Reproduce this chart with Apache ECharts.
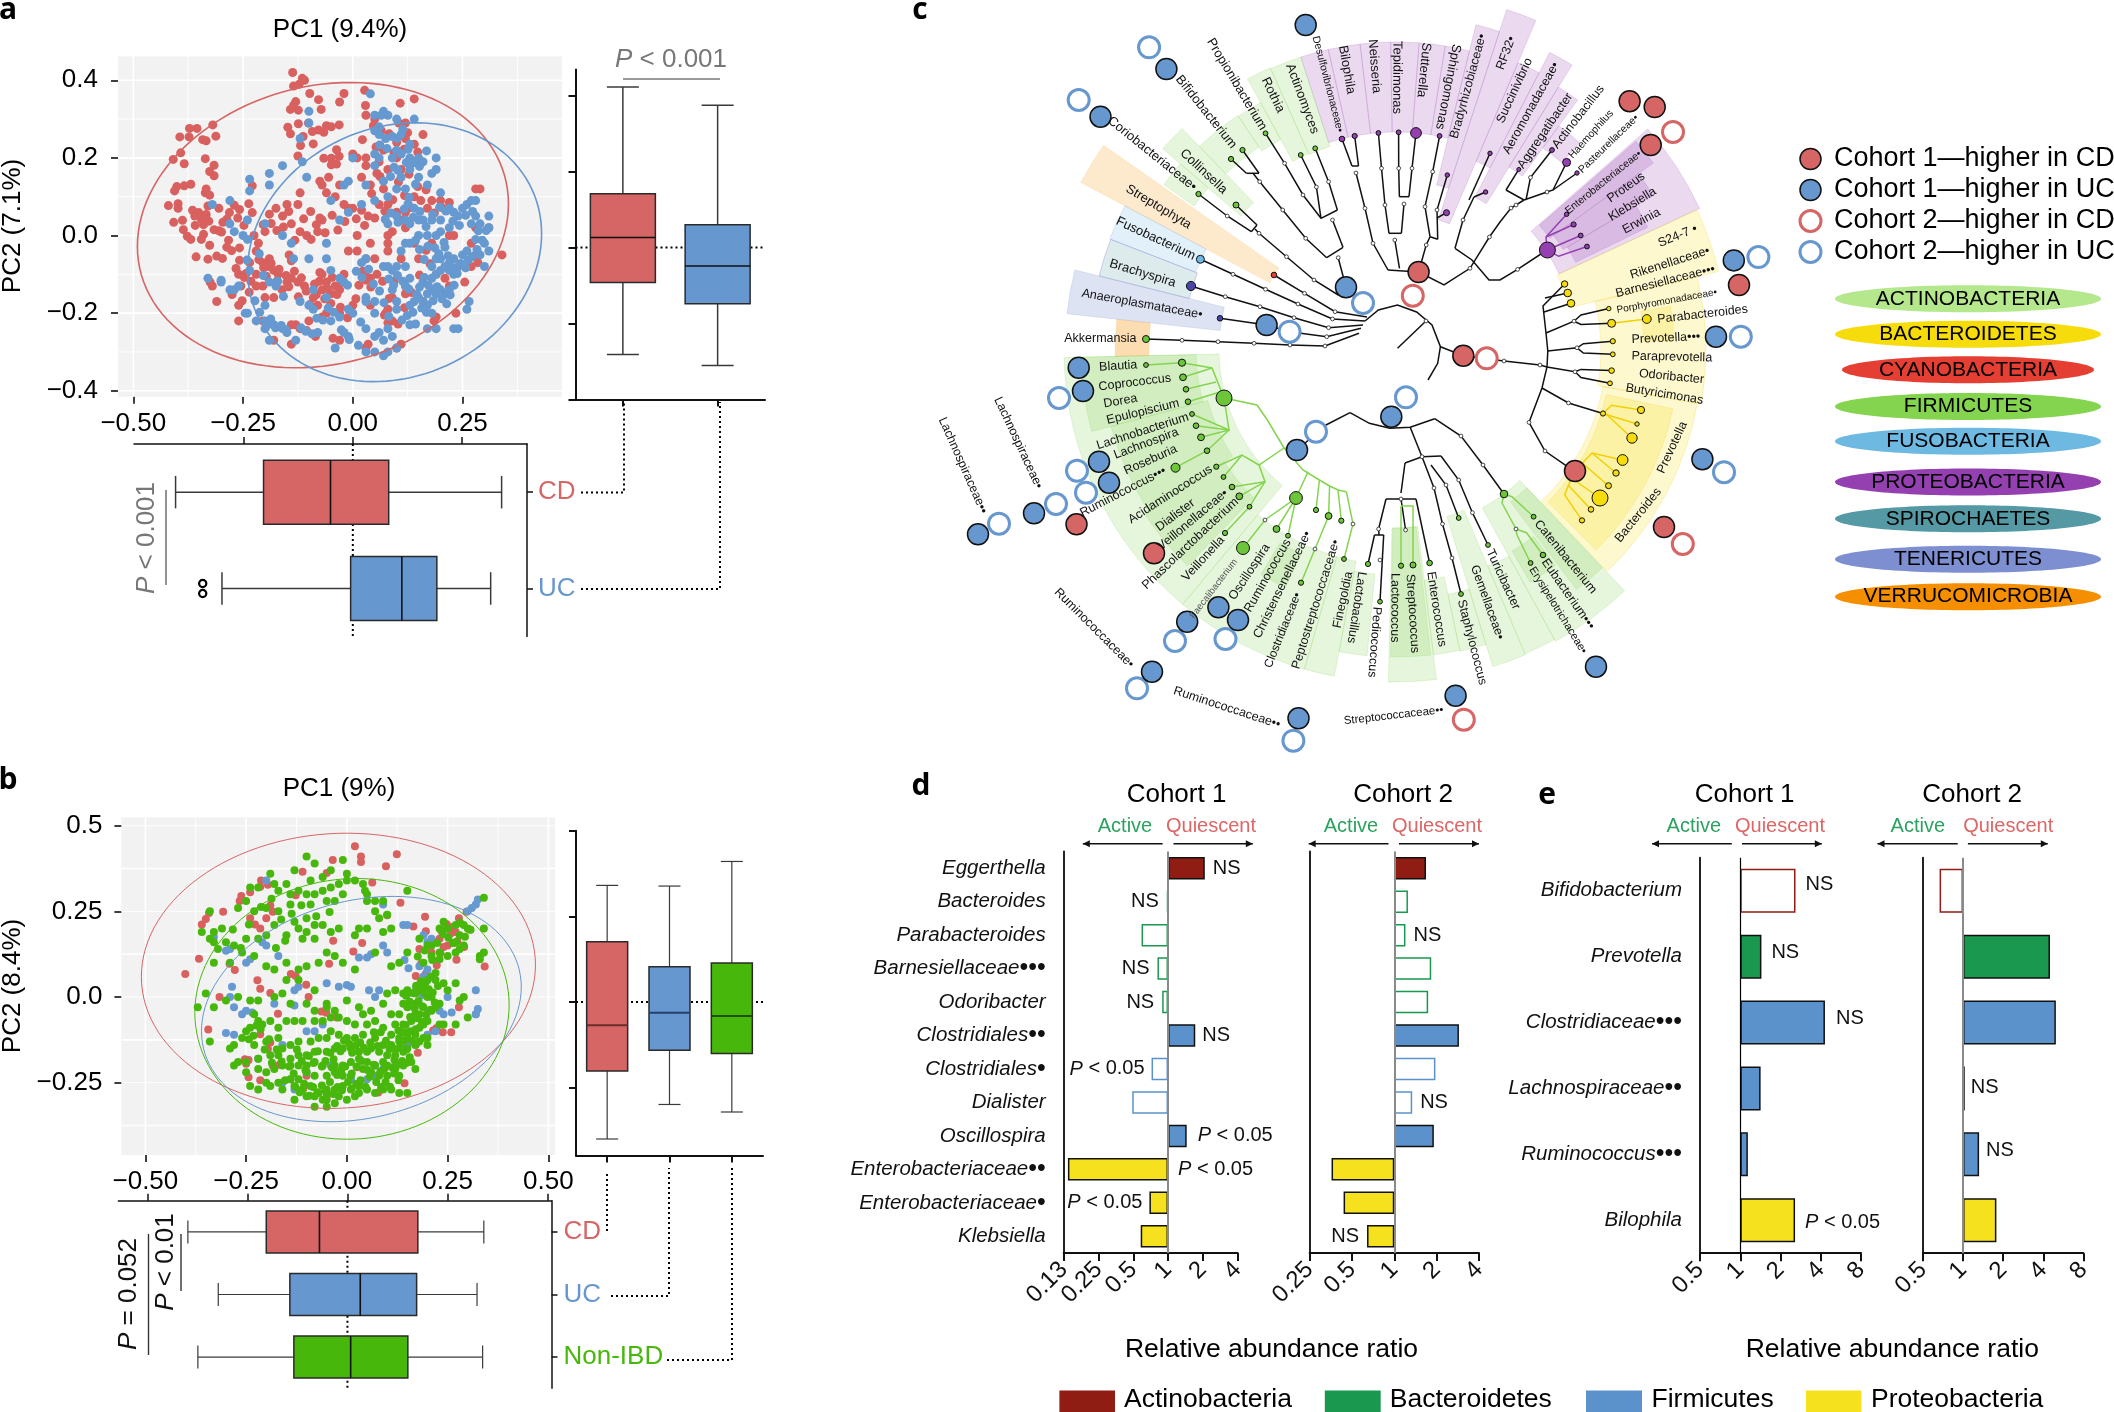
<!DOCTYPE html>
<html><head><meta charset="utf-8">
<style>html,body{margin:0;background:#fff}#c{width:2114px;height:1412px}</style>
<script src="https://cdn.jsdelivr.net/npm/echarts@6/dist/echarts.min.js"></script>
</head><body><div id="c"></div>
<script>
/* ---------- panel a: ordination scores, flat x,y lists ---------- */
const aCD=[-.137,.42,-.115,.405,-.11,.40,-.122,.39,-.135,.385,.027,.374,.029,.335,.108,.341,.14,.352,-.02,.366,-.03,.344,-.098,.366,-.078,.35,-.072,.325,-.124,.323,-.142,.325,-.13,.345,-.135,.335,-.148,.279,-.124,.288,-.101,.29,-.06,.283,-.049,.28,-.031,.285,-.078,.272,-.066,.266,-.092,.268,-.113,.255,-.119,.232,-.09,.236,-.037,.221,-.031,.204,-.049,.199,-.037,.184,-.049,.182,-.066,.199,
-.372,.276,-.355,.276,-.319,.285,-.394,.254,-.373,.254,-.342,.247,-.334,.244,-.312,.256,-.392,.213,-.409,.196,-.384,.185,-.336,.198,-.316,.181,-.326,.165,-.316,.154,-.401,.126,-.406,.115,-.384,.128,-.369,.132,-.334,.12,-.336,.11,-.326,.104,-.42,.077,-.398,.082,-.398,.07,-.33,.076,-.408,.034,-.388,.039,-.365,.065,-.351,.059,-.334,.054,-.36,.05,-.345,.042,-.359,.026,-.34,.028,-.328,.037,-.386,.015,-.377,-.002,-.369,-.01,-.34,.003,-.345,-.01,-.316,.015,-.299,.009,-.326,-.025,-.357,-.055,-.33,-.061,-.31,-.053,-.297,-.059,-.287,-.03,-.276,-.039,-.258,-.032,-.281,.059,-.287,.042,-.305,.07,-.258,.067,-.237,.082,-.229,.059,-.229,.128,-.258,-.064,
-.235,-.07,-.22,-.04,-.215,-.02,-.225,.0,-.2,.01,-.19,.055,-.175,.07,-.16,.05,-.15,.08,-.125,.08,-.12,.11,-.14,.03,-.12,.01,-.105,.0,-.095,-.01,-.08,.01,-.075,.045,-.07,.04,-.06,.11,-.07,.13,-.04,.1,-.03,.13,-.075,.14,-.055,.15,-.02,.08,.0,.07,-.01,.07,.02,.065,.035,.05,.05,.045,.06,.08,.08,.08,.1,.06,.11,.04,.12,.06,.14,.1,.155,.09,.18,.09,.2,.09,.22,.085,.17,.07,.07,.12,.08,.17,.055,.16,.03,.18,.02,.15,.04,.13,.01,.2,.0,.21,.03,.2,.06,.19,.07,.22,.1,.2,.11,.17,.14,.19,.1,.24,.12,.25,.14,.235,.065,.27,.05,.3,.03,.31,.12,.29,.105,.29,
.16,.26,.125,.265,.28,.12,.29,.12,.31,.02,.34,-.05,.28,-.05,.285,-.07,.27,-.08,.255,-.12,.235,-.2,.19,-.21,.185,-.22,.11,-.28,.1,-.29,.03,-.29,.035,-.28,-.03,-.27,-.045,-.265,-.1,-.22,-.12,-.24,-.14,-.28,-.14,-.23,-.13,-.23,-.105,-.245,-.085,-.26,-.18,-.27,-.205,-.22,-.26,-.22,-.26,-.18,-.31,-.17,-.255,-.13,-.32,-.13,-.325,-.12,-.26,-.1,-.22,-.1,-.22,-.13,-.205,-.13,-.2,-.16,-.18,-.16,-.205,-.07,-.19,-.08,-.19,-.06,-.18,-.09,-.17,-.1,-.15,-.12,-.14,-.11,-.14,-.065,-.145,-.05,-.125,-.12,-.11,-.13,-.09,-.16,-.07,-.14,-.06,-.12,-.05,-.15,-.05,-.175,-.03,-.14,-.025,-.12,-.02,-.1,-.07,-.1,-.075,-.095,-.04,-.13,.03,-.115,.03,-.105,.04,-.11,.055,-.1,.05,-.06,.03,-.06,-.01,-.04,.01,.0,.01,-.04,.04,-.02,.08,-.02,.08,.0,.09,.01,.08,-.04,.11,-.06,.15,-.06,.12,-.13,.12,-.15,.08,-.19,.075,-.2,.08,-.225,.09,-.22,.09,-.16,.04,-.18,.0,-.18,-.03,-.2,-.08,-.18,-.06,-.2,-.07,-.21,.16,-.17,.19,-.1,.21,-.11,.22,-.13,.23,.0,.22,.0,.28,.02,.27,-.02,.18,-.02,.14,-.02,.12,.02,
-.243,-.098,-.232,-.118,-.214,-.062,-.203,-.083,-.197,-.105,-.186,-.072,-.173,-.118,-.168,-.087,-.161,-.14,-.152,-.103,-.146,-.132,-.133,-.092,-.124,-.158,-.117,-.109,-.106,-.143,-.098,-.178,-.087,-.125,-.083,-.152,-.076,-.118,-.064,-.163,-.058,-.137,-.047,-.108,-.036,-.152,-.028,-.185,-.012,-.212,.007,-.163,.014,-.128,.023,-.092,.041,-.133,.068,-.118,.072,-.205,.083,-.162,.094,-.118,.103,-.228,.118,-.186,.134,-.147,.152,-.102,.167,-.038,.176,-.073,-.204,.028,-.186,.031,-.173,.013,-.158,.022,-.146,.062,-.132,-.012,-.112,.043,-.096,.062,-.083,.028,-.063,.007,-.047,.052,-.034,.014,-.018,.036,.008,.043,.027,.026,.043,.108,.062,.152,.073,.063,.091,.092,.104,.138,.118,.103,.132,.072,.148,.126,.167,.118,.186,.058,.203,.072,.217,.067,-.27,.078,-.262,.045,-.248,.026,-.296,.034,-.305,.012,-.283,-.012,-.266,-.085,-.247,-.108,-.275,-.152,-.252,-.168,-.236,-.146,.062,.232,.083,.262,.094,.213,.117,.222,.128,.158,.148,.215,.047,.283,.022,.247,.053,.228,-.142,.262,-.125,.205];
const aUC=[.04,.365,.07,.32,.065,.31,.05,.31,.08,.31,.1,.3,.14,.3,.06,.28,.05,.27,.06,.26,.075,.25,.09,.255,.1,.25,.11,.26,.13,.235,.09,.2,.1,.22,.11,.21,.13,.2,.15,.2,.16,.19,.19,.2,.19,.17,.18,.16,.13,.17,.11,.15,.12,.12,.06,.2,.05,.21,.05,.18,.07,.14,.03,.13,.0,.2,-.01,.14,-.02,.13,-.12,.25,-.1,.32,-.1,.29,-.115,.19,-.105,.15,-.16,.18,-.19,.16,-.235,.145,-.235,.115,-.19,.13,-.28,.09,-.32,.08,-.28,.03,-.27,.01,-.24,.04,-.25,.0,-.24,-.01,-.2,.03,-.16,.0,-.14,-.02,-.135,-.06,-.1,-.06,-.06,-.02,-.05,.09,-.01,.06,-.03,.04,-.06,-.06,-.05,-.09,
.02,.08,.05,.09,.08,.03,.1,.05,.12,.04,.13,.03,.15,.04,.18,.04,.2,.04,.22,.02,.24,.05,.25,.07,.26,.08,.28,.09,.28,.05,.27,.03,.29,.03,.31,.05,.31,.02,.28,-.01,.3,-.02,.31,-.04,.29,-.05,.3,-.08,.26,-.04,.25,-.05,.24,-.08,.23,-.06,.22,-.07,.21,-.03,.2,-.06,.19,-.06,.18,-.08,.19,-.1,.2,-.09,.21,-.08,.22,-.09,.23,-.1,.18,-.11,.16,-.12,.17,-.15,.18,-.14,.19,-.15,.2,-.14,.21,-.15,.22,-.14,.16,-.17,.17,-.18,.15,-.16,.14,-.17,.13,-.18,.12,-.13,.13,-.11,.12,-.08,.11,-.04,.12,-.02,.1,-.08,.09,-.09,.08,-.08,.07,-.08,.03,-.06,.02,-.07,.09,-.14,.1,-.17,.1,-.19,.05,-.2,.05,-.17,.03,-.17,.03,-.16,-.01,-.19,.0,-.2,.03,-.24,.06,-.25,.08,-.24,.09,-.26,.05,-.26,.07,-.27,.1,-.29,.05,-.3,.07,-.31,.03,-.3,.08,-.3,-.01,-.26,-.02,-.25,-.04,-.29,-.08,-.25,-.05,-.22,-.03,-.21,-.09,-.19,-.1,-.18,-.12,-.17,-.09,-.14,-.03,-.11,-.02,-.12,-.06,-.16,-.2,-.18,-.22,-.22,-.2,-.24,-.2,-.22,-.18,-.23,-.16,-.24,-.15,-.25,-.13,-.27,-.19,-.27,-.24,-.2,-.245,-.2,-.28,-.14,-.3,-.12,-.33,-.11,-.3,-.115,-.27,-.14,-.26,-.13,-.235,-.09,-.19,-.12,-.175,-.13,.13,-.23,.17,-.24,.19,-.24,.23,-.24,.24,-.24,.26,-.19,.265,-.17,.18,-.2,.13,-.02,.15,.0,.17,.0,.19,.0,.2,.01,.22,.07,.23,.06,.27,.09,.1,.12,.08,.1,.15,.15,.17,.13,.2,.11,.14,.07,.16,.04,
.143,-.013,.152,-.036,.163,-.062,.171,-.028,.187,-.032,.196,-.047,.208,-.018,.217,-.052,.226,-.083,.238,-.098,.246,-.072,.257,-.083,.263,-.063,.272,-.055,.283,-.036,.295,-.012,.304,.013,.286,.012,.273,.062,.257,.052,.243,.026,.228,.037,.212,.063,.198,.073,.182,.054,.167,.023,.153,.062,.138,.047,.126,.082,.117,.068,.103,.034,.087,.058,.074,.042,.152,-.133,.163,-.108,.172,-.128,.183,-.168,.192,-.132,.203,-.163,.214,-.176,.222,-.153,.231,-.128,.168,-.198,.157,-.187,.146,-.152,.137,-.198,.128,-.138,.114,-.118,.102,-.103,.093,-.128,.082,-.112,.061,-.143,.047,-.125,.036,-.087,.021,-.108,.008,-.092,-.012,-.128,.071,-.173,.082,-.208,.112,-.218,.124,-.206,.143,-.228,-.223,-.168,-.212,-.198,-.196,-.233,-.187,-.215,-.176,-.238,-.163,-.232,-.152,-.243,-.118,-.238,-.107,-.247,-.093,-.253,-.082,-.213,-.068,-.218,-.056,-.187,-.043,-.198,-.026,-.243,-.008,-.268,.013,-.283,.018,-.223,.114,.274,.126,.222,.137,.187,.152,.178,.168,.218,.143,.132,.128,.098,.086,.152,.078,.224,.061,.233,.094,.176,.103,.168,.122,.188,-.171,-.118,-.158,-.157,-.204,-.103,-.241,-.063,-.213,-.047];
/* ---------- panel b: ordination scores, flat x,y lists ---------- */
const bCD=[.02,.44,.124,.417,-.035,.40,.035,.41,.035,.394,.097,.382,-.11,.366,-.05,.362,-.213,.34,-.196,.328,-.215,.322,-.262,.295,-.24,.306,-.266,.28,-.307,.249,-.342,.245,-.35,.228,-.36,.212,-.24,.23,-.228,.212,-.215,.2,-.2,.23,-.184,.249,-.19,.267,-.127,.297,.063,.334,.133,.275,.1,.239,.194,.234,.165,.206,.196,.192,.234,.194,.253,.206,.278,.23,.297,.249,.304,.197,.266,.158,.24,.146,.291,.146,.272,.109,.342,.089,.184,.097,.171,.061,.038,.158,-.034,.164,.016,.133,-.044,.097,-.139,.067,-.127,.061,-.222,.049,-.215,.024,-.19,.012,-.101,.036,-.095,.0,-.316,.0,-.401,.067,-.367,.112,-.291,.097,-.278,.079,-.344,-.095,-.171,-.049,-.063,-.042,-.051,-.046,.222,-.091,.259,-.103,.278,-.03,-.025,-.06,-.215,-.109,-.253,-.182,-.244,-.184,-.25,-.195,-.244,-.234,-.184,-.2,-.167,-.198,-.196,-.152,-.19,-.133,-.215,-.243,-.108,-.267,-.1,-.23,.078,-.279,.143,-.252,.025,-.205,-.05,-.291,.21,.13,.23,.17,.25,.15,.27,.19,.18,.14,.26,.2,.213,.163,.232,.128,.247,.213,.258,.186,.274,.163,.223,.093,.196,.068,.183,.043,.172,-.137,.176,-.163,.214,-.098,.238,-.103];
const bUC=[.325,.285,.32,.27,.31,.26,.3,.25,-.2,.34,-.33,.175,-.3,.135,-.29,.14,-.24,.11,-.21,.16,-.2,.15,-.17,.12,-.25,.1,-.13,.02,-.12,.03,-.285,.03,-.29,.0,-.28,-.03,-.26,-.05,-.25,-.04,-.235,-.045,-.18,-.02,-.13,-.025,-.3,-.105,-.28,-.11,-.22,-.18,-.16,-.14,-.1,-.1,-.08,-.1,-.06,-.08,-.05,.04,-.02,.03,.0,.035,.01,.03,.03,.115,.05,.115,.06,.125,.055,.02,.07,.0,.08,.02,.09,.15,.1,.13,.09,.27,.14,.21,.15,.21,.19,.18,.2,.16,.21,.17,.18,.09,.2,.08,.19,.06,.2,.05,.25,.0,.32,.02,.325,-.035,.32,-.05,.32,-.05,.24,-.05,.26,-.045,.23,-.04,.22,-.1,.2,-.11,.17,-.14,.15,-.14,.12,-.2,.09,-.21,.07,-.2,.07,-.23,.05,-.24,.01,-.24,-.04,-.2,-.1,-.22,-.14,-.24,-.16,-.25,-.13,-.27,.143,.108,.153,.084,.172,.028,.187,.006,.203,-.04];
const bNon=[-.1,.41,-.08,.39,-.04,.37,-.01,.4,.0,.36,.0,.34,.02,.34,-.19,.36,-.18,.33,-.15,.33,-.13,.37,-.09,.34,-.06,.35,-.04,.32,-.02,.33,.04,.33,.05,.3,.045,.31,-.06,.31,-.08,.3,-.1,.3,-.12,.31,-.14,.3,-.17,.31,-.22,.32,-.24,.32,-.14,.27,-.09,.27,-.05,.28,-.03,.28,-.01,.3,.05,.28,.07,.28,.09,.28,.15,.31,-.27,.26,-.25,.28,-.23,.25,-.2,.26,-.17,.25,-.13,.22,-.1,.23,-.08,.21,-.06,.21,.07,.25,.08,.23,.1,.24,-.34,.25,-.36,.19,-.33,.19,-.31,.2,-.3,.16,-.34,.17,-.33,.16,-.32,.14,-.28,.15,-.25,.17,-.22,.17,-.2,.18,-.18,.21,-.15,.18,-.12,.2,-.1,.19,-.11,.17,-.08,.17,-.04,.19,-.02,.2,.02,.18,.03,.2,.05,.2,.09,.19,.11,.2,.15,.13,.13,.1,.11,.09,.07,.13,.18,.17,.2,.15,.23,.2,.24,.22,.25,.2,.27,.21,.28,.18,.3,.2,.27,.16,.29,.15,.33,.12,.34,.2,.34,.13,.33,.11,.34,.29,-.33,.1,-.29,.1,-.26,.13,-.23,.12,-.2,.09,-.18,.08,-.15,.1,-.12,.08,-.1,.09,-.07,.1,-.05,.13,-.03,.12,-.01,.1,.02,.08,-.15,.05,-.12,.05,-.08,.02,-.05,-.02,.0,-.01,.03,-.03,-.35,.01,-.37,-.03,-.33,-.03,-.3,-.01,-.27,.0,-.24,-.01,-.22,-.01,-.18,.0,-.16,.01,-.14,-.02,-.1,-.02,-.08,-.04,-.05,-.03,-.03,-.04,.04,-.05,.06,-.04,.09,-.02,.1,.01,.12,.02,.14,.01,.15,.02,.17,.01,.19,.03,.2,.05,.21,.06,.22,.05,.24,.04,.27,.04,.28,-.01,.29,.0,.3,-.06,.27,-.08,.24,-.08,.18,-.05,.19,-.03,.17,-.02,.15,-.03,.14,-.02,.13,-.05,.11,-.05,.12,-.08,.14,-.08,.16,-.07,.18,-.09,.19,-.12,.2,-.14,.15,-.12,.13,-.12,.11,-.11,.09,-.09,.07,-.07,.05,-.08,.02,-.08,.0,-.07,-.02,-.06,-.04,-.06,-.06,-.07,-.08,-.07,-.11,-.07,-.13,-.07,-.15,-.07,-.17,-.09,-.19,-.07,-.21,-.08,-.22,-.07,-.23,-.05,-.24,-.09,-.25,-.1,-.26,-.12,-.34,-.13,-.29,-.15,-.28,-.14,-.23,-.14,-.2,-.13,-.17,-.12,-.16,-.15,-.14,-.14,-.12,-.13,-.09,-.13,-.07,-.12,-.05,-.12,-.04,-.1,-.02,-.11,.0,-.12,.02,-.12,.04,-.11,.07,-.12,.09,-.14,.11,-.14,.13,-.13,.15,-.15,.17,-.14,.14,-.16,.12,-.17,.1,-.17,.08,-.16,.06,-.15,.05,-.16,.03,-.16,.01,-.15,-.01,-.15,-.03,-.15,-.05,-.16,-.08,-.16,-.1,-.17,-.12,-.17,-.14,-.18,-.17,-.17,-.19,-.17,-.22,-.18,-.25,-.19,-.27,-.19,-.28,-.2,-.25,-.22,-.22,-.21,-.2,-.22,-.18,-.21,-.16,-.2,-.14,-.2,-.12,-.2,-.1,-.2,-.08,-.19,-.06,-.2,-.03,-.2,-.01,-.2,.01,-.19,.03,-.18,.05,-.19,.07,-.2,.09,-.19,.1,-.2,.12,-.21,.14,-.2,.16,-.19,.17,-.21,.13,-.23,.1,-.23,.08,-.23,.06,-.22,.04,-.21,.01,-.23,-.01,-.23,-.03,-.22,-.05,-.23,-.08,-.23,-.1,-.22,-.12,-.24,-.14,-.24,-.17,-.25,-.2,-.25,-.24,-.26,-.22,-.27,-.19,-.26,-.16,-.27,-.13,-.26,-.11,-.27,-.09,-.26,-.07,-.28,-.05,-.27,-.03,-.27,-.01,-.26,.01,-.27,.03,-.26,.05,-.27,.07,-.28,.09,-.27,.11,-.27,-.1,-.29,-.08,-.29,-.06,-.3,-.05,-.28,-.03,-.31,-.02,-.29,.0,-.3,.02,-.29,.03,-.28,.13,-.28,.15,-.28,-.13,-.3,-.08,-.32,-.05,-.32,-.05,-.3,.22,-.03,.23,-.02,.23,-.08,.21,.0,.25,.02,.2,.0,.18,.02,.19,-.08,.21,-.04,.2,-.07,.17,-.05,.16,-.1,.2,-.12,.17,-.11,.18,-.13,.22,.07,.19,.1,.21,.12,.25,.12,.28,.14,.23,.13,.21,.15,.29,.21,.27,.13,.23,.11,
.178,-.012,.187,-.027,.193,.012,.168,-.033,.174,-.062,.186,-.072,.157,-.058,.146,-.082,.153,-.103,.162,-.128,.171,-.094,.138,-.103,.128,-.098,.142,-.128,.148,-.153,.133,-.148,.122,-.152,.156,-.176,.147,-.193,.137,-.187,.126,-.198,.118,-.183,.106,-.152,.097,-.128,.084,-.103,.076,-.143,.067,-.103,.058,-.133,.042,-.148,.033,-.133,.022,-.142,.013,-.163,.006,-.137,-.007,-.128,-.016,-.158,-.024,-.143,-.033,-.182,-.041,-.163,-.053,-.187,-.062,-.203,-.072,-.158,-.083,-.193,-.094,-.172,-.103,-.213,-.112,-.187,-.124,-.153,-.132,-.223,-.143,-.203,-.153,-.243,-.162,-.188,-.174,-.153,-.186,-.192,-.193,-.123,-.204,-.153,-.214,-.094,-.224,-.083,-.232,-.113,-.243,-.123,-.128,-.263,-.117,-.278,-.106,-.253,-.093,-.288,-.084,-.263,-.073,-.278,-.062,-.258,-.053,-.273,-.042,-.248,-.033,-.283,-.023,-.263,-.012,-.272,.003,-.248,.012,-.268,.023,-.253,.034,-.243,.046,-.262,.057,-.233,.073,-.248,.085,-.263,.096,-.248,.107,-.262,.117,-.223,.128,-.243,.113,-.206,.094,-.208,.083,-.218,.067,-.198,.051,-.213,.036,-.187,.024,-.203,.012,-.223,-.004,-.203,-.014,-.213,-.024,-.228,-.037,-.206,.194,.037,.203,.023,.213,.013,.226,.032,.218,-.016,.208,-.037,.197,-.052,.184,.046,.172,.033,.163,.012,.156,-.014,.147,.004,.176,.118,.193,.136,.212,.108,.224,.158,.238,.183,.252,.173,.263,.158,.281,.217,.293,.176,.307,.196,-.176,.143,-.153,.164,-.263,.143,-.283,.197,-.243,.212,-.213,.263,-.187,.287,-.163,.226,-.137,.243,-.113,.268,-.076,.236,-.043,.248];
/* ellipses: centre x, centre y, half width, half height, phase */
const aEllipses=[[-.068,.0268,.4227,.3676,.149],[.0953,-.043,.3349,.3335,.143]];
const bEllipses=[[-.021,.0765,.489,.4017,.043],[.036,-.0352,.3968,.3289,.197],[.0127,-.0346,.39,.3805,.03]];
/* boxplots: low, q1, median, q3, high */
const aBoxY=[[-.282,-.092,.026,.141,.422],[-.311,-.148,-.049,.060,.374]];
const aBoxX=[[-.405,-.204,-.051,.082,.340],[-.299,-.005,.112,.192,.315]];
const aOutliersUC=[-.343];
const bBoxY=[[-.401,-.202,-.068,.176,.341],[-.300,-.141,-.032,.103,.339],[-.322,-.151,-.041,.114,.411]];
const bBoxX=[[-.399,-.203,-.070,.176,.341],[-.323,-.144,.032,.173,.324],[-.374,-.134,.008,.151,.338]];
const aGroups=['CD','UC'], bGroups=['CD','UC','Non-IBD'];
/* panels d and e */
const dTaxa=['Eggerthella','Bacteroides','Parabacteroides','Barnesiellaceae•••','Odoribacter','Clostridiales••','Clostridiales•','Dialister','Oscillospira','Enterobacteriaceae••','Enterobacteriaceae•','Klebsiella'];
const dPhyla=['A','B','B','B','B','F','F','F','F','P','P','P'];
const dFilled=[1,0,0,0,0,1,0,0,1,1,1,1];
const dCohort1=[2.08,.98,.59,.81,.89,1.72,.72,.49,1.45,.136,.69,.58];
const dCohort2=[1.68,1.25,1.20,1.83,1.74,2.88,1.96,1.34,1.91,.358,.436,.64];
const dNotes1=[['NS','r',8],['NS','l',8],0,['NS','l',8],['NS','l',8],['NS','r',7],['P','l',7],0,['P','r',11],['P','r',10],['P','l',7],0];
const dNotes2=[0,0,['NS','r',8],0,0,0,0,['NS','r',8],0,0,0,['NS','l',8]];
const eTaxa=['Bifidobacterium','Prevotella','Clostridiaceae•••','Lachnospiraceae••','Ruminococcus•••','Bilophila'];
const ePhyla=['A','B','F','F','F','P'];
const eFilled=[0,1,1,1,1,1];
const eCohort1=[2.59,1.44,4.30,1.42,1.14,2.57];
const eCohort2=[.667,4.49,4.97,1.03,1.32,1.78];
const eNotes1=[['NS','r',10,-6],['NS','r',10,-4],['NS','r',11,-4],0,0,['P','r',10,2]];
const eNotes2=[0,0,0,['NS','r',6,-1],['NS','r',7,-4],0];
/* panel c: cladogram layout, units from the tree centre */
/* wedges: from angle, to angle, inner, outer, clade */
const cladeWedges=[[-18,-12.7,218,308,'p'],[-12.7,-6.7,218,308,'p'],[-6.7,-1,218,308,'p'],[-1,4.3,218,308,'p'],[4.3,9.2,218,308,'p'],[9.2,13.8,218,308,'p'],[13.8,18,170,335,'p'],[18,23,137,358,'p'],[23,27.3,205,312,'p'],[27.3,31.7,172,335,'p'],[31.7,36,215,309,'p'],[36,41.5,250,277,'p'],[48.7,65,180,335,'p'],[49,54,190,318,'p'],[54,59,195,300,'p'],[59,64,200,280,'p'],
[65,76.3,178,332,'y'],[76.3,100,205,310,'y'],[100,136.3,210,306,'y'],[102,135,215,283,'y'],[81,88,248,278,'y'],
[136.5,151.3,180,332,'g'],[136.5,143,190,300,'g'],[143.5,150,232,268,'g'],[151.3,157,235,330,'g'],[157,163,174,331,'g'],[163,168,250,308,'g'],[168,173,232,307,'g'],[173,181.3,178,332,'g'],[173.5,181,178,307,'g'],[185.4,190.7,225,307,'g'],[190.7,196,215,332,'g'],[196,220,215,332,'g'],[205,211,225,262,'g'],[220,268.7,177,332,'g'],[224,237,205,300,'g'],[237,255,195,295,'g'],[255,268.7,200,315,'g'],
[310.8,316,205,308,'g'],[305.5,310.8,248,285,'g'],[316,326,245,283,'g'],[326,331.3,240,282,'g'],[331.3,336,215,309,'g'],[336,342,214,308,'g'],
[298,305,143,357,'o'],[291.2,298,215,307,'f'],[284,291.2,213,306,'s'],[276.3,284,177,331,'t'],[268.7,276.3,247,281,'v']];
const blackBranches=[[-31,-29,-17.6,-40,1.5,-45,20.6,-38,36,-25,44.4,-3.3,41.7,13.3,32,30],[1.5,-1.7,30,-29],[44.4,-3.3,67.3,5.7],[-46,62.7,-26.6,73.3,-6.2,78.3,14.2,77.3,38.7,68.7],[-46,62.7,-70,75,-99,100],
[14.2,77.3,26,106.7],[9,113,26,106.7,45,106],[9,113,5,143],[-10,149,5,149,20,149],[-10,149,-17.4,179],[-21.5,185,-12.3,185],[-17.4,179,-17,185],[-21.5,185,-28,214],[-12.3,185,-16,251.7],[5,149,9.6,180],[20,149,33.6,213],[26,106.7,38,138,46.5,174,56,208,65,244],[45,106,62.7,130,76.4,162.7,92,195],[35,115,50,135,62.7,168],
[38.7,68.7,65,86,87,115,108,144],[168.6,-66,147,-44,150,-17,151.8,1,151,17,146,38,133,72.4,149,101,178.4,121.4],[149,-52,171.7,-57],[148,-38,175,-46.7],[150,-17,178,-28.8,185,-35,212.8,-41.4],[178,-28.8,185,-25.5,215.6,-26.7],[151.8,1,181,-2.2,187.4,-6.3,216.8,-8.8],[181,-2.2,187.4,3,216.8,4.3],[67.3,5.7,108,11,144,15,151,17,179,21.8,185,19.4,215.6,20.6],[179,21.8,185,27.6,214,33.3],[146,38,172.5,53,207,63.5],
[22.6,-78,48,-65,74,-81.7,93.4,-113,104,-128,115,-142,128,-150],[59,-101.7,76,-90,93,-70,104,-70,121.6,-80.6,151,-100],[59,-101.7,67,-130,78,-153],[73,-150,94,-196.7],[78,-153,89.6,-158],[110,-160,128,-150],[110,-160,122.8,-180.6],[128,-150,151,-158,157,-160,170.6,-187.6],[157,-160,181,-177],[134.5,-172.5,156,-200],[130,-150,134.5,-172.5],
[-8,-80,22.6,-78],[-8,-80,-23,-106.7,-31,-141.7,-40,-177],[-44,-184,-37.5,-184],[-44,-184,-54,-211],[-37.5,-184,-41.3,-214],[3.5,-81.7,-1.2,-110],[-7,-116.7,5.4,-116.7],[-7,-116.7,-11,-145,-14.5,-181.7,-17.6,-217],[5.4,-116.7,8,-146],[3.4,-153.3,13,-153.3],[3.4,-153.3,2.7,-181.7,2.6,-217.7],[13,-153.3,16,-181.7,20,-217],[22.6,-78,30.2,-105,34,-113.3],[34,-113.3,41.7,-110.7],[34,-113.3,29,-143.3,36.7,-178.3,43.6,-214],[41.7,-110.7,41,-140,51.3,-175],[41,-132,50.5,-137.3],
[-50,-62.7,-57.8,-92.3],[-69.3,-92.3,-53,-102.7],[-53,-102.7,-63.5,-130],[-75,-131.7,-58.6,-140],[-75,-131.7,-93,-155,-111.4,-186.7,-130.5,-216.7],[-58.6,-140,-67.4,-168.3,-80.8,-201.7],[-75,-131.7,-79.6,-163,-95.3,-195],[-69.3,-92.3,-90.3,-111.7,-113.3,-140,-136.3,-168.3],[-149.6,-176.7,-137,-176.7],[-149.6,-176.7,-165,-191],[-137,-176.7,-153.5,-200],[-136.3,-168.3,-143,-176.7],
[-50,-62.7,-57.8,-55,-82,-70,-109.5,-93.3,-137,-116.7],[-144.7,-118.3,-139,-125],[-137,-116.7,-141,-121],[-144.7,-118.3,-168.8,-134,-197.5,-156],[-139,-125,-160,-145],
[-122,-75,-91.5,-56.7,-60.9,-38.3,-29,-33],[-195.6,-90.7,-163,-75.7,-130.5,-60.7,-98,-46,-63.5,-31,-31,-29],[-205,-64,-170.7,-53.3,-136,-43.3,-102,-32.3,-67.4,-22.3,-33,-25],[-176,-31.7,-129.4,-25,-106.4,-18.3,-69.3,-13.3,-35,-21.7],[-250,-11,-214,-9.7,-178,-8.3,-142,-6.7,-106,-5,-71,-4,-37,-16.7]];
const greenBranches=[[-99,100,-112,98,-128.6,70,-139,55,-172,48],[-112,98,-93,120,-76.6,130,-66.4,136,-58,140,-49.6,141.7],[-172,48,-184,18,-214,12.7],[-214,12.7,-250,15],[-184,18,-213,27.3],[-180,32,-210,39.3],[-176,42,-208,51.7],[-172,48,-167,80,-204,64],[-167,80,-200,75.7],[-167,80,-195,87.3],[-167,80,-189,100.7,-220.5,117.7],
[-112,98,-137,115,-154,105,-179.7,116.7],[-154,105,-172.5,127],[-137,115,-131,131.7,-164,137],[-131,131.7,-156.7,146.3],[-131,131.7,-146.5,156.7,-171,183],[-88,121.7,-100,148,-131,170,-153,198],[-100,148,-119.5,179],[-100,148,-108,185.7],[-76.6,130,-80,160],[-66.4,136,-67.4,166,-81,199,-95,232.7],[-58,140,-54.7,170.7],[-49.6,141.7,-43,174,-52,209],
[5,156,5,215.7],[5,156,17,156,17,215],[108,144,106,153,120,179,121,185,134.6,213],[120,179,130.5,182.7,147,205],[108,144,116,146.7,137.6,166.7]];
const yellowBranches=[[215.6,-26.7,250.8,-31],[207,63.5,215.6,55.3,245,60],[207,63.5,241,74],[210,64,236,88],[178.4,121.4,196,103,226.6,110],[196,103,220,123],[185,112,212.5,135.7],[178,130,204,148],[178.4,121.4,168.6,144.7,186,170.4],[172,135,195,159.4]];
const purpleBranches=[[151,-100,150,-113,170.6,-135.7],[150,-113,177.6,-125.5],[151,-100,184.7,-114.5],[151,-100,162.7,-93.7,191,-103.5]];
const whiteNodes=[30,-29,108,11,144,15,178,-28.8,181,-2.2,179,21.8,172.5,53,149,101,133,72.4,121.6,-80.6,74,-81.7,93.4,-113,115,-142,120,-145,67,-130,134.5,-172.5,151,-158,-23,-106.7,-31,-141.7,-40,-177,-1.2,-110,-11,-145,-14.5,-181.7,8,-146,2.7,-181.7,16,-181.7,30.2,-105,29,-143.3,36.7,-178.3,41,-140,-57.8,-92.3,-63.5,-130,-67.4,-168.3,-93,-155,-111.4,-186.7,-79.6,-163,-90.3,-111.7,-113.3,-140,-136.3,-168.3,-82,-70,-109.5,-93.3,-137,-116.7,-168.8,-134,-91.5,-56.7,-60.9,-38.3,-163,-75.7,-130.5,-60.7,-98,-46,-63.5,-31,-170.7,-53.3,-136,-43.3,-102,-32.3,-67.4,-22.3,-69.3,-13.3,-214,-9.7,-178,-8.3,-142,-6.7,-106,-5,-71,-4,26,106.7,5,149,-17.4,179,-16,210,38,138,46.5,174,56,208,62.7,130,76.4,162.7,50,135,65,86,87,115,-131,170,-81,199,-43,174,120,179,9.6,180];
/* leaves: x, y, radius */
const greenLeaves=[-197.5,-156,2.6,-160,-145,3,-165,-191,2.6,-153.5,-200,2.6,-130.5,-216.7,2.4,-95.3,-195,2.4,-80.8,-201.7,2.4,-250,-11,3.5,-250,15,2.4,-214,12.7,3.6,-213,27.3,3.4,-210,39.3,2.8,-208,51.7,2.8,-204,64,2.4,-200,75.7,2.8,-195,87.3,3.4,-189,100.7,2.8,-220.5,117.7,4.5,-179.7,116.7,2.6,-172.5,127,2.4,-164,137,2.8,-156.7,146.3,3.4,-146.5,156.7,2.4,-171,183,2.6,-153,198,6.5,-119.5,179,3.4,-108,185.7,2.4,-100,148,6.4,-80,160,2.6,-67.4,166,3.4,-54.7,170.7,2.6,-52,209,2.4,-95,232.7,2.6,-28,214,2.6,-16,251.7,2.4,5,215.7,2.6,17,215,3,33.6,213,2.8,65,244,2.4,62.7,168,2.4,92,195,2.4,108,144,3.8,134.6,213,2.4,147,205,2.8,137.6,166.7,2.4,-172,48,8];
const yellowLeaves=[168.6,-66,3.2,171.7,-57,3.8,175,-46.7,3.8,212.8,-41.4,2.2,215.6,-26.7,4,250.8,-31,4.4,216.8,-8.8,2.6,216.8,4.3,2.4,215.6,20.6,2.8,214,33.3,2.4,207,63.5,2.6,245,60,3.6,241,74,2.2,236,88,5.2,226.6,110,5.4,220,123,3.2,212.5,135.7,3,204,148,8,195,159.4,2.8,186,170.4,2.6];
const purpleLeaves=[-54,-211,2.8,-41.3,-214,2.6,-17.6,-217,2.4,2.6,-217.7,2.4,20,-217,5.4,43.6,-214,2.4,51.3,-175,2.2,50.5,-137.3,3,94,-196.7,2.2,89.6,-158,2.2,122.8,-180.6,2,156,-200,2.4,170.6,-187.6,4,181,-177,2.2,170.6,-135.7,2.2,177.6,-125.5,2.6,184.7,-114.5,2.4,191,-103.5,2.4,151.4,-100,8];
const otherLeaves=[[-122,-75,2.8,'#E53F33'],[-195.6,-90.7,4,'#6EB9E2'],[-205,-64,4.6,'#4A44A8'],[-176,-31.7,2.8,'#4A44A8']];
/* differential markers */
const cohort1CD=[22.6,-78,67.3,5.7,-319.5,174.3,-242,203.3,179,121,268,177,343,-65,233.6,-248.8,258.7,-243,254.7,-205];
const cohort1UC=[-90.3,-325,-229.6,-281,-295.5,-233.3,-50,-62.7,-129.4,-25,-317.3,17.7,-313,41,-297,111.7,-287,132.7,-362,163.3,-418,184.3,-208.8,271.7,-177.6,257.3,-158,270,-244,321.7,-97.5,368.3,59.6,345.7,200,316.7,-99,100,-4.7,66.7,306.4,109.2,337.8,-89.6,320,-13.3];
const cohort2CD=[16.8,-54.3,90.7,8.3,67.8,369.7,286.8,194,277,-218];
const cohort2UC=[-246.9,-302.7,-317.3,-250,-33,-47,-106.4,-18.3,-337,48,-319,120.7,-310,142.7,-340,154,-397,173.7,-221,291,-170.5,289,-259,338.3,-102.6,390.7,-80,81.7,10,47.3,328,122.2,362.4,-92.9,344.8,-13.3];
/* labels: text, x, y, size, rotation override, align override */
const cladeLabels=[['Coriobacteriaceae•',-201,-161.7,13],['Bifidobacterium',-162,-203,13],['Propionibacterium',-132.4,-220.7,13],['Desulfovibrionaceae•',-56,-218,10.5],['Bilophila',-45,-256,13],['Neisseria',-19.5,-256.7,13],['Tepidimonas',.8,-236,13],['Sutterella',25,-252.7,13],['Sphingomonas',43.6,-220.7,13],['Rothia',-115,-238,13],['Actinomyces',-80.8,-216.7,13],['Collinsella',-170.7,-158.3,13],['Streptophyta',-205.9,-124,13],['Fusobacterium',-201.3,-93.3,13],['Brachyspira',-220.5,-66.7,13],['Anaeroplasmataceae•',-193.7,-35,12.5],['Akkermansia',-259.5,-11.7,12.5,0],['Blautia',-258.7,15,12.5],['Coprococcus',-225,28,12.5],['Dorea',-258.8,48,12.5],['Epulopiscium',-217,53,12.5],['Lachnobacterium',-207.7,66.7,12.5],['Lachnospira',-218,81.7,12.5],['Roseburia',-219.5,98.3,12.5],['Ruminococcus•••',-230.7,120,12.5],['Acidaminococcus',-184.8,118.3,12.5],['Dialister',-202.6,151.7,12.5],['Veillonellaceae•',-169.5,141.7,12.5],['Phascolarctobacterium',-159.3,150,12.5],['Veillonella',-173.5,188,12.5],['Faecalibacterium',-160.3,210,9.5],['Oscillospira',-128.7,195,12.5],['Ruminococcus',-108,190,12.5],['Christensenellaceae•',-87.9,181.7,12.5],['Clostridiaceae•',-98,243,12],['Peptostreptococcaceae•',-59.8,190,12.5],['Finegoldia',-47,221.7,12.5],
['Lactobacillus',-34,221.7,12.5],['Pediococcus',-19,256.7,12.5],['Lactococcus',-1,223,12.5],['Streptococcus',14,224,12.5],['Enterococcus',34.6,221.7,12.5],['Staphylococcus',65,250,12.5],['Gemellaceae•',78,215.7,12.5],['Turicibacter',93.3,200,12.5],['Erysipelotrichaceae•',135.6,218,11],['Eubacterium•••',148,210,12.5],['Catenibacterium',140.7,171.7,12.5],['Bacteroides',221.5,190.8,12.5,51],['Prevotella',264.5,122.7,12.5,65],['Butyricimonas',229.7,37.8,12.5],['Odoribacter',243,23.5,12.5],['Paraprevotella',235.6,6,12.5],['Prevotella•••',235.6,-10.4,12.5],['Parabacteroides',261.4,-30.4,12.5],['Porphyromonadaceae•',220.7,-39.8,10],['Barnesiellaceae•••',220,-56,12.5],['Rikenellaceae•',234.4,-74.5,12.5],['S24-7 •',262.6,-106.3,12.5],['Enterobacteriaceae•',170.6,-137.8,10.5],['Proteus',212.5,-150,12.5],['Klebsiella',213.6,-131.6,12.5],['Erwinia',227.3,-119.4,12.5],['Pasteurellaceae•',184.3,-178.6,10.5],['Haemophilus',174.5,-192.9,10.5],['Actinobacillus',158.8,-203,12.5],['Aggregatibacter',124.4,-182.7,12.5],['Aeromonadaceae•',110,-197,12.5],['Succinivibrio',104,-227.5,12.5],['RF32•',104,-280.6,12.5],['Bradyrhizobiaceae•',58,-211.7,12.5],
['Lachnospiraceae••',-412,163,12.5,-66,'right'],['Lachnospiraceae•',-356.7,138,12.5,-65,'right'],['Ruminococcaceae•',-264,316,12.5,-45,'right'],['Ruminococcaceae••',-116,375,12.5,-18,'right'],['Streptococcaceae••',47.3,360,11.5,6.4,'right']];
const phylumNames=['ACTINOBACTERIA','BACTEROIDETES','CYANOBACTERIA','FIRMICUTES','FUSOBACTERIA','PROTEOBACTERIA','SPIROCHAETES','TENERICUTES','VERRUCOMICROBIA'];
const cohortLegend=['Cohort 1—higher in CD','Cohort 1—higher in UC','Cohort 2—higher in CD','Cohort 2—higher in UC'];
const barLegend=['Actinobacteria','Bacteroidetes','Firmicutes','Proteobacteria'];

/* ---------- styling and builders ---------- */
const F='"Liberation Sans"';
const RED='#D66565',BLUE='#6797CF',GRN='#47B80B';
const PHY={A:'#8F1D14',B:'#1A9850',F:'#5B92CC',P:'#F5E11D'};
const grids=[],xAxes=[],yAxes=[],series=[],graphic=[];
function panel(l,t,r,b,x,y,extra){grids.push({left:l,top:t,width:r-l,height:b-t,...(extra||{})});const i=grids.length-1;xAxes.push({gridIndex:i,...x});yAxes.push({gridIndex:i,...y});return i;}
function layer(gi,items,fn,z){series.push({type:'custom',coordinateSystem:'cartesian2d',xAxisIndex:gi,yAxisIndex:gi,z:z,silent:true,clip:false,data:items.map(()=>[0,0]),renderItem:(p,api)=>fn(items[p.dataIndex],api,p.dataIndex)});}
const pairs=a=>{const o=[];for(let i=0;i<a.length;i+=2)o.push([a[i],a[i+1]]);return o;};
const triples=a=>{const o=[];for(let i=0;i<a.length;i+=3)o.push([a[i],a[i+1],a[i+2]]);return o;};
function scatAxis(min,max,ticks,labels,margin){return{type:'value',min,max,axisLine:{show:false,onZero:false},splitLine:{show:false},axisTick:{show:true,length:7,lineStyle:{color:'#000',width:1.5},customValues:ticks},axisLabel:{customValues:ticks,margin,fontSize:26,fontFamily:F,color:'#000',formatter:v=>labels[ticks.findIndex(t=>Math.abs(t-v)<1e-6)]}};}
function scatter(gi,xmin,xmax,ymin,ymax,gx,gy,groups,ells,size,ew){
  const lines=[...gx.map((v,i)=>['x',v,i%2==0]),...gy.map((v,i)=>['y',v,i%2==0])];
  layer(gi,lines,(d,api)=>{const a=d[0]=='x'?api.coord([d[1],ymin]):api.coord([xmin,d[1]]),b=d[0]=='x'?api.coord([d[1],ymax]):api.coord([xmax,d[1]]);return{type:'line',shape:{x1:a[0],y1:a[1],x2:b[0],y2:b[1]},style:{stroke:'#fff',lineWidth:d[2]?1.6:.9}};},1);
  groups.forEach(g=>series.push({type:'scatter',xAxisIndex:gi,yAxisIndex:gi,z:2,silent:true,symbolSize:size,itemStyle:{color:g[1],opacity:1},data:pairs(g[0])}));
  layer(gi,ells,(e,api)=>{const pts=[];for(let i=0;i<=120;i++){const t=i/120*2*Math.PI;pts.push(api.coord([e[0]+e[2]*Math.cos(t),e[1]+e[3]*Math.sin(t+e[4])]));}return{type:'polyline',shape:{points:pts},style:{fill:'none',stroke:e[5],lineWidth:ew}};},3);
}
function darker(c){return c==RED?'#6B2E2E':c==BLUE?'#25406B':c==GRN?'#1F5200':'#222';}
function boxes(gi,data,colors,horiz,bw,cw,dark,lw){
  layer(gi,data,(d,api,i)=>{const P=(v,o)=>{const c=horiz?api.coord([v,i]):api.coord([i,v]);return horiz?[c[0],c[1]+(o||0)]:[c[0]+(o||0),c[1]];};
    const L=(a,b,s,w)=>({type:'line',shape:{x1:a[0],y1:a[1],x2:b[0],y2:b[1]},style:{stroke:s,lineWidth:w||lw}});
    const w='#3a3a3a',c1=P(d[1],-bw/2),c3=P(d[3],bw/2);
    return{type:'group',children:[L(P(d[0]),P(d[1]),w),L(P(d[3]),P(d[4]),w),L(P(d[0],-cw/2),P(d[0],cw/2),w),L(P(d[4],-cw/2),P(d[4],cw/2),w),
      {type:'rect',shape:{x:Math.min(c1[0],c3[0]),y:Math.min(c1[1],c3[1]),width:Math.abs(c1[0]-c3[0]),height:Math.abs(c1[1]-c3[1])},style:{fill:colors[i],stroke:'#2a2a2a',lineWidth:1.5}},
      L(P(d[2],-bw/2),P(d[2],bw/2),dark?darker(colors[i]):'#111',dark?2:1.6)]};},5);
}
/* dotted zero reference across all category bands */
function dotted(gi,horiz,n){layer(gi,[0],(d,api)=>{const a=horiz?api.coord([0,0]):api.coord([0,0]),b=horiz?api.coord([0,n-1]):api.coord([n-1,0]);const k=horiz?1:0,h=(b[k]-a[k])/(n-1)/2;a[k]-=h;b[k]+=h;return{type:'line',shape:{x1:a[0],y1:a[1],x2:b[0],y2:b[1]},style:{stroke:'#000',lineWidth:2,lineDash:[2,3]}};},4);}
const rich={i:{fontStyle:'italic',fontSize:20,fontFamily:F,color:'#111'}};
function barPanel(gi,vals,phyla,filled,notes){
  series.push({type:'bar',xAxisIndex:gi,yAxisIndex:gi,barWidth:gi>=8?44:22.5,silent:true,z:3,
    data:vals.map((v,i)=>{const n=notes[i],c=PHY[phyla[i]];return{value:v,itemStyle:{color:filled[i]?c:'#fff',borderColor:filled[i]?'#111':c,borderWidth:1.5},
      label:n?{show:true,position:n[1]=='r'?'right':'left',distance:n[2],offset:[0,n[3]||0],fontSize:20,fontFamily:F,color:'#111',rich,formatter:n[0]=='P'?'{i|P} < 0.05':'NS'}:{show:false}};}),
    markLine:{silent:true,symbol:'none',animation:false,label:{show:false},lineStyle:{color:gi==8?'#000':'#8a8a8a',width:gi==8?1.2:2,type:'solid'},data:[{xAxis:1}]}});
}
function logX(min,max){return{type:'log',logBase:2,min,max,axisLine:{show:true,onZero:false,lineStyle:{color:'#111',width:2}},splitLine:{show:false},axisTick:{show:true,length:8,lineStyle:{color:'#111',width:2}},axisLabel:{rotate:45,verticalAlign:'middle',margin:13,fontSize:24,fontFamily:F,color:'#111',formatter:v=>v<.2?'0.13':String(+v.toFixed(2))}};}
const bigDots=v=>v.replace(/(•+)/,'{d|$1}');
function catY(names,show){return{type:'category',data:names,inverse:true,axisLine:{show:true,onZero:false,lineStyle:{color:'#222',width:2}},splitLine:{show:false},axisTick:{alignWithLabel:true,length:8,lineStyle:{color:'#222',width:2}},axisLabel:show?{margin:18,fontSize:20.5,fontStyle:'italic',fontFamily:F,color:'#111',formatter:bigDots,rich:{d:{fontSize:25,fontStyle:'normal',fontFamily:F,color:'#111'}}}:{show:false}};}

/* ---------- a ---------- */
let gi=panel(118,56.4,562,396.8,scatAxis(-.5349,.4767,[-.5,-.25,0,.25],['−0.50','−0.25','0.00','0.25'],14),scatAxis(-.4156,.4615,[-.4,-.2,0,.2,.4],['−0.4','−0.2','0.0','0.2','0.4'],20),{show:true,backgroundColor:'#F2F2F2',borderWidth:0});
scatter(gi,-.5349,.4767,-.4156,.4615,[-.5,-.375,-.25,-.125,0,.125,.25,.375],[-.4,-.3,-.2,-.1,0,.1,.2,.3,.4],[[aCD,'#D8605F'],[aUC,'#6699D0']],aEllipses.map((e,i)=>[...e,i?BLUE:RED]),9,1.6);
const line=w=>({show:true,onZero:false,lineStyle:{color:'#111',width:w}});
const tick=(w,extra)=>({show:true,length:7,lineStyle:{color:'#111',width:w},...extra});
gi=panel(575.5,69.4,765,399.4,{type:'category',data:aGroups,axisLine:line(2),axisTick:tick(2,{alignWithLabel:true}),axisLabel:{show:false},splitLine:{show:false}},{type:'value',min:-.4,max:.4686,axisLine:line(2),axisTick:tick(2,{customValues:[-.4,-.2,0,.2,.4]}),axisLabel:{show:false},splitLine:{show:false}});
dotted(gi,false,2);boxes(gi,aBoxY,[RED,BLUE],false,65,32,false,1.5);
gi=panel(134,444,527,636.6,{type:'value',position:'top',min:-.5,max:.398,axisLine:line(1.5),axisTick:tick(1.5,{customValues:[-.25,0,.25]}),axisLabel:{show:false},splitLine:{show:false}},{type:'category',data:aGroups,inverse:true,position:'right',axisLine:line(1.5),axisTick:tick(1.5,{alignWithLabel:true,length:6}),axisLabel:{margin:11,fontSize:26,fontFamily:F,color:v=>v=='CD'?RED:BLUE},splitLine:{show:false}});
dotted(gi,true,2);boxes(gi,aBoxX,[RED,BLUE],true,64,32.5,false,1.5);
layer(gi,[[aOutliersUC[0],-5],[aOutliersUC[0],5]],(d,api)=>{const c=api.coord([d[0],1]);return{type:'circle',shape:{cx:c[0],cy:c[1]+d[1],r:3.6},style:{fill:'#fff',stroke:'#000',lineWidth:2.2}};},6);
/* ---------- b ---------- */
gi=panel(121.4,817.4,555,1155,scatAxis(-.5595,.5165,[-.5,-.25,0,.25,.5],['−0.50','−0.25','0.00','0.25','0.50'],14),scatAxis(-.4612,.5243,[-.25,0,.25,.5],['−0.25','0.0','0.25','0.5'],19),{show:true,backgroundColor:'#F2F2F2',borderWidth:0});
scatter(gi,-.5595,.5165,-.4612,.5243,[-.5,-.375,-.25,-.125,0,.125,.25,.375,.5],[-.375,-.25,-.125,0,.125,.25,.375,.5],[[bCD,'#D8605F'],[bUC,'#6699D0'],[bNon,'#47B80B']],bEllipses.map((e,i)=>[...e,[RED,BLUE,GRN][i]]),8,1);
gi=panel(576,830.7,763,1155.4,{type:'category',data:bGroups,axisLine:line(2),axisTick:tick(2,{alignWithLabel:true}),axisLabel:{show:false},splitLine:{show:false}},{type:'value',min:-.449,max:.501,axisLine:line(2),axisTick:tick(2,{customValues:[-.25,0,.25,.5]}),axisLabel:{show:false},splitLine:{show:false}});
dotted(gi,false,3);boxes(gi,bBoxY,[RED,BLUE,GRN],false,41,22,true,1.2);
gi=panel(118.4,1200.7,551.5,1388.3,{type:'value',position:'top',min:-.5727,max:.5102,axisLine:line(1.5),axisTick:tick(1.5,{customValues:[-.5,-.25,0,.25,.5]}),axisLabel:{show:false},splitLine:{show:false}},{type:'category',data:bGroups,inverse:true,position:'right',axisLine:line(1.5),axisTick:tick(1.5,{alignWithLabel:true,length:6}),axisLabel:{margin:12,fontSize:26,fontFamily:F,color:v=>v=='CD'?RED:v=='UC'?BLUE:GRN},splitLine:{show:false}});
dotted(gi,true,3);boxes(gi,bBoxX,[RED,BLUE,GRN],true,42,23,false,1.2);
/* ---------- d, e ---------- */
gi=panel(1063.7,851.5,1237.6,1253,logX(.125,4),catY(dTaxa,true));barPanel(gi,dCohort1,dPhyla,dFilled,dNotes1);
gi=panel(1309.6,851.5,1479,1253,logX(.25,4),catY(dTaxa,false));barPanel(gi,dCohort2,dPhyla,dFilled,dNotes2);
gi=panel(1700,857.8,1861,1253.2,logX(.5,8),catY(eTaxa,true));barPanel(gi,eCohort1,ePhyla,eFilled,eNotes1);
gi=panel(1922.9,857.8,2083.4,1253.2,logX(.5,8),catY(eTaxa,false));barPanel(gi,eCohort2,ePhyla,eFilled,eNotes2);
/* ---------- c ---------- */
const hidden=(min,max,inv)=>({type:'value',min,max,inverse:!!inv,show:false,splitLine:{show:false}});
gi=panel(900,0,1760,760,hidden(-496,364),hidden(-350,410,true));
const WC={p:'rgba(148,64,176,.2)',y:'rgba(247,220,11,.2)',g:'rgba(132,212,80,.2)',o:'rgba(245,143,0,.2)',f:'rgba(110,185,226,.2)',s:'rgba(84,153,163,.2)',t:'rgba(125,143,208,.25)',v:'rgba(245,143,0,.3)'};
const WS={p:'rgba(148,64,176,.16)',y:'rgba(247,200,11,.22)',g:'rgba(132,212,80,.2)',o:'rgba(245,143,0,.1)',f:'rgba(110,140,226,.2)',s:'rgba(125,110,208,.3)',t:'rgba(125,143,208,.2)',v:'rgba(245,143,0,.1)'};
const rad=d=>(d-90)*Math.PI/180;
layer(gi,cladeWedges,(w,api)=>{const c=api.coord([0,0]);return{type:'sector',shape:{cx:c[0],cy:c[1],r0:w[2],r:w[3],startAngle:rad(w[0]),endAngle:rad(w[1]),clockwise:true},style:{fill:WC[w[4]],stroke:WS[w[4]],lineWidth:1}};},1);
const branchLayer=(list,color,w)=>layer(gi,list,(b,api)=>({type:'polyline',shape:{points:pairs(b).map(q=>api.coord(q))},style:{fill:'none',stroke:color,lineWidth:w}}),2);
branchLayer(blackBranches,'#111',1.5);branchLayer(greenBranches,'#84D450',1.5);branchLayer(yellowBranches,'#F2D000',1.5);branchLayer(purpleBranches,'#9440B0',1.5);
const dot=(list,fn,z)=>layer(gi,list,(d,api)=>{const c=api.coord([d[0],d[1]]);return fn(d,c);},z);
dot(pairs(whiteNodes),(d,c)=>({type:'circle',shape:{cx:c[0],cy:c[1],r:1.9},style:{fill:'#fff',stroke:'#222',lineWidth:.8}}),3);
const leaf=color=>(d,c)=>({type:'circle',shape:{cx:c[0],cy:c[1],r:d[2]},style:{fill:color,stroke:'#111',lineWidth:1}});
dot(triples(greenLeaves),leaf('#6DC63A'),4);dot(triples(yellowLeaves),leaf('#F7DC0B'),4);dot(triples(purpleLeaves),leaf('#9440B0'),4);
dot(otherLeaves,(d,c)=>leaf(d[3])(d,c),4);
const mark=(fill,stroke,w,r)=>(d,c)=>({type:'circle',shape:{cx:c[0],cy:c[1],r},style:{fill,stroke,lineWidth:w}});
dot(pairs(cohort2CD),mark('#fff',RED,3,10.5),5);dot(pairs(cohort2UC),mark('#fff',BLUE,3,10.5),5);
dot(pairs(cohort1CD),mark(RED,'#111',1.5,10.5),6);dot(pairs(cohort1UC),mark(BLUE,'#111',1.5,10.5),6);
layer(gi,cladeLabels,(l,api)=>{const c=api.coord([l[1],l[2]]);let a=Math.atan2(l[1],-l[2])*180/Math.PI;if(a<0)a+=360;const right=a>=13.5&&a<189.5;const rot=l[4]!==undefined?l[4]:(right?90-a:270-a);
  return{type:'text',x:c[0],y:c[1],rotation:rot*Math.PI/180,style:{text:l[0],fontSize:l[3],fontFamily:F,fill:l[0]=='Faecalibacterium'?'#555':'#111',align:l[5]||(right?'left':'right'),verticalAlign:'middle'}};},7);
/* ---------- page furniture ---------- */
function T(x,y,text,size,o){o=o||{};graphic.push({type:'text',x,y,rotation:o.rot||0,z:20,silent:true,style:{text,fontSize:size,fontFamily:o.font||F,fontWeight:o.weight||'normal',fill:o.color||'#000',align:o.align||'center',verticalAlign:'middle',rich:o.rich}});}
function PL(points,o){o=o||{};graphic.push({type:'polyline',z:19,silent:true,shape:{points},style:{fill:'none',stroke:o.color||'#000',lineWidth:o.w||2,lineDash:o.dash}});}
const DOT=[2,3];
const letter={font:'"Open Sans"',weight:'bold'};
T(8,10,'a',30,letter);T(8,780,'b',30,letter);T(920,10,'c',30,letter);T(921,786,'d',30,letter);T(1547,795,'e',30,letter);
T(340,29.5,'PC1 (9.4%)',26);T(13,226,'PC2 (7.1%)',26,{rot:Math.PI/2});
T(339,789,'PC1 (9%)',26);T(13,986,'PC2 (8.4%)',26,{rot:Math.PI/2});
const gr='#777';const gi26={i:{fontStyle:'italic',fontSize:26,fontFamily:F,color:gr}};const bk={i:{fontStyle:'italic',fontSize:26,fontFamily:F,color:'#111'}};
T(671,60,'{i|P} < 0.001',26,{color:gr,rich:gi26});PL([[623,79],[720,79]],{color:gr,w:1.6});
T(147,538,'{i|P} < 0.001',26,{color:gr,rich:gi26,rot:Math.PI/2});PL([[166,490],[166,585]],{color:gr,w:1.6});
T(166,1262,'{i|P} < 0.01',26,{rot:Math.PI/2,rich:bk,color:'#111'});PL([[181,1234],[181,1291]],{color:'#333',w:1.4});
T(129,1294,'{i|P} = 0.052',26,{rot:Math.PI/2,rich:bk,color:'#111'});PL([[148.5,1234],[148.5,1355]],{color:'#333',w:1.4});
PL([[581,492.6],[624,492.6],[624,402]],{dash:DOT});PL([[581,589],[720,589],[720,402]],{dash:DOT});
PL([[607,1174],[607,1233]],{dash:DOT});PL([[611,1296],[669,1296],[669,1168]],{dash:DOT});PL([[667,1360],[732,1360],[732,1168]],{dash:DOT});
function arrow(x1,x2,y){PL([[x1,y],[x2,y]],{color:'#111',w:1.4});const s=x2>x1?-1:1;graphic.push({type:'polygon',z:19,silent:true,shape:{points:[[x2,y],[x2+s*7,y-3.5],[x2+s*7,y+3.5]]},style:{fill:'#111'}});}
function head(name,cx,ax,qx,a1,a2,b1,b2){T(cx,795,name,26);T(ax,826.5,'Active',20,{color:'#2CA25F'});T(qx,826.5,'Quiescent',20,{color:'#DD6666'});arrow(a1,a2,843.7);arrow(b1,b2,843.7);}
head('Cohort 1',1176.5,1125,1211,1162.6,1082.8,1173.5,1252.8);head('Cohort 2',1403,1351,1437,1388.5,1308.7,1399,1479);
head('Cohort 1',1744.7,1693.8,1780,1731.8,1652,1742,1821.8);head('Cohort 2',1972.2,1917.8,2008.2,1957.7,1877.5,1967.9,2047.8);
T(1271.5,1350,'Relative abundance ratio',26.5);T(1892.3,1350,'Relative abundance ratio',26.5);
[[1059.4,1115,1124,'A'],[1324.8,1380.7,1389.8,'B'],[1586,1642,1651.5,'F'],[1806,1861.4,1871,'P']].forEach((r,i)=>{graphic.push({type:'rect',z:19,silent:true,shape:{x:r[0],y:1390.4,width:r[1]-r[0],height:22},style:{fill:PHY[r[3]]}});T(r[2],1400,barLegend[i],26.5,{align:'left'});});
[[RED,1],[BLUE,1],[RED,0],[BLUE,0]].forEach((s,i)=>{const y=159+i*31;graphic.push({type:'circle',z:19,silent:true,shape:{cx:1810.5,cy:y,r:10.5},style:s[1]?{fill:s[0],stroke:'#111',lineWidth:1.5}:{fill:'#fff',stroke:s[0],lineWidth:3}});T(1834,y,cohortLegend[i],27,{align:'left'});});
const phyCols=['#B5E88D','#F7DC0B','#E53F33','#84D450','#6EB9E2','#9440B0','#5499A3','#7D8FD0','#F58F00'];
[298.8,334.3,369.8,406.5,441.2,482,518.8,559.2,596.7].forEach((y,i)=>{graphic.push({type:'ellipse',z:19,silent:true,shape:{cx:1968,cy:y,rx:i==2?126:133,ry:13.5},style:{fill:phyCols[i]}});T(1968,y,phylumNames[i],21);});

const chart=echarts.init(document.getElementById('c'),null,{renderer:'canvas'});
chart.setOption({animation:false,backgroundColor:'#fff',tooltip:{show:false},grid:grids,xAxis:xAxes,yAxis:yAxes,series,graphic:{elements:graphic}});
</script></body></html>
